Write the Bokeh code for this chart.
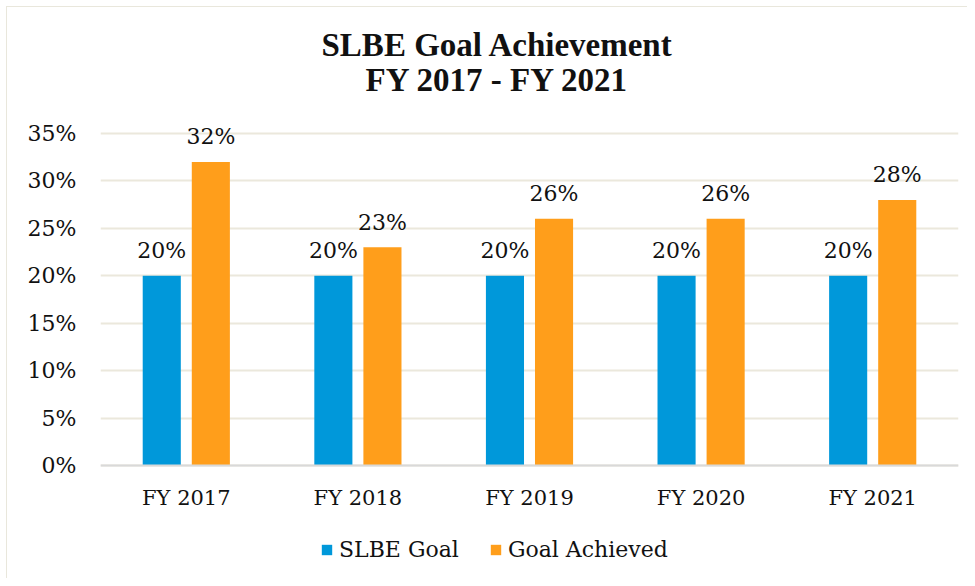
from bokeh.plotting import figure
from bokeh.models import (ColumnDataSource, FactorRange, Range1d, FixedTicker,
                          NumeralTickFormatter, Label, Legend, LegendItem, Span)
from bokeh.transform import dodge
from bokeh.embed import file_html
from bokeh.resources import INLINE
from bokeh.core.properties import value

years = ["FY 2017", "FY 2018", "FY 2019", "FY 2020", "FY 2021"]
slbe_goal = [0.20, 0.20, 0.20, 0.20, 0.20]
goal_achieved = [0.32, 0.23, 0.26, 0.26, 0.28]
y_ticks = [0.0, 0.05, 0.10, 0.15, 0.20, 0.25, 0.30, 0.35]
title_lines = ["SLBE Goal Achievement", "FY 2017 - FY 2021"]
series_names = ["SLBE Goal", "Goal Achieved"]

BLUE = "#0098da"
ORANGE = "#ff9e1b"
GRID = "#ebe8dc"
EDGE = "#e9e7dc"
SERIF = "DejaVu Serif"
INK = "#111111"

W, H = 967, 578
src = ColumnDataSource(dict(
    year=years,
    base=[0.0] * len(years),
    goal=slbe_goal,
    ach=goal_achieved,
    goal_txt=["{:.0f}%".format(v * 100) for v in slbe_goal],
    ach_txt=["{:.0f}%".format(v * 100) for v in goal_achieved],
))

# layout: y(0.35) at 133px, y(0) at 465px; frame spans the full height
px_per_unit = (465 - 133) / 0.35
y_top = 0.35 + 133 / px_per_unit
y_bot = -(H - 465) / px_per_unit

edge_bg = ("linear-gradient({c},{c}) 6px 6px / 100% 1px no-repeat, "
           "linear-gradient({c},{c}) 6px 6px / 1px 100% no-repeat, white").format(c=EDGE)

p = figure(width=W, height=H, output_backend="svg", toolbar_location=None,
           x_range=FactorRange(*years, range_padding=0), y_range=Range1d(y_bot, y_top),
           min_border_left=100, min_border_right=9, min_border_top=0,
           min_border_bottom=0, styles={"background": edge_bg})
p.outline_line_color = None
p.background_fill_color = None
p.border_fill_color = None

r1 = p.vbar(x=dodge("year", -0.143, range=p.x_range), top="goal", width=0.222,
            source=src, fill_color=BLUE, line_color=None)
r2 = p.vbar(x=dodge("year", 0.143, range=p.x_range), top="ach", width=0.222,
            source=src, fill_color=ORANGE, line_color=None)

p.text(x=dodge("year", -0.143, range=p.x_range), y="goal", text="goal_txt", source=src,
       text_align="center", text_baseline="middle", y_offset=-25,
       text_font=value(SERIF), text_font_size="22px", text_color=INK)
p.text(x=dodge("year", 0.143, range=p.x_range), y="ach", text="ach_txt", source=src,
       text_align="center", text_baseline="middle", y_offset=-25,
       text_font=value(SERIF), text_font_size="22px", text_color=INK)

# category axis drawn inside the frame
p.add_layout(Span(location=0, dimension="width", line_color="#d9d9d9", line_width=2))
p.text(x="year", y="base", text="year", source=src, text_align="center",
       text_baseline="middle", y_offset=32, text_font=value(SERIF),
       text_font_size="21px", text_color=INK)
p.xaxis.visible = False

p.yaxis.ticker = FixedTicker(ticks=y_ticks)
p.yaxis.formatter = NumeralTickFormatter(format="0%")
p.yaxis.axis_line_color = None
p.yaxis.major_tick_line_color = None
p.yaxis.major_tick_out = 0
p.yaxis.major_tick_in = 0
p.yaxis.minor_tick_line_color = None
p.yaxis.major_label_text_font = SERIF
p.yaxis.major_label_text_font_size = "22px"
p.yaxis.major_label_text_color = INK
p.yaxis.major_label_standoff = 24

p.xgrid.grid_line_color = None
p.ygrid.grid_line_color = GRID
p.ygrid.grid_line_width = 2

for txt, yy in zip(title_lines, (H - 44, H - 79)):
    p.add_layout(Label(x=397, y=yy, x_units="screen", y_units="screen", text=txt,
                       text_align="center", text_baseline="middle",
                       text_font="Liberation Serif", text_font_style="bold",
                       text_font_size="33px", text_color=INK))

legend = Legend(items=[LegendItem(label=series_names[0], renderers=[r1]),
                       LegendItem(label=series_names[1], renderers=[r2])],
                orientation="horizontal", location=(220, 16),
                glyph_width=13, glyph_height=13, label_standoff=6, spacing=30,
                padding=0, margin=0, border_line_color=None,
                background_fill_alpha=0,
                label_text_font=SERIF, label_text_font_size="22px",
                label_text_color=INK, label_height=20)
p.add_layout(legend, "center")

open("out.html", "w").write(file_html(p, INLINE))
